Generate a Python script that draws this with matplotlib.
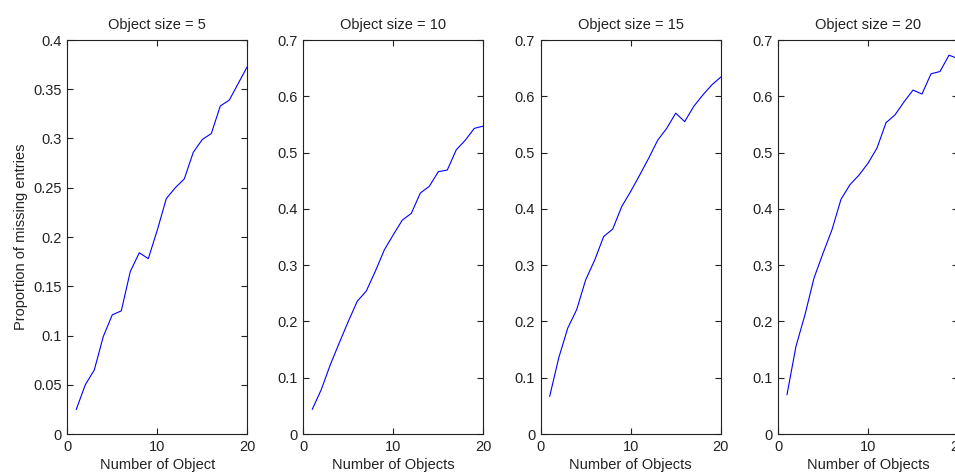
import numpy as np
import matplotlib
matplotlib.use('Agg')
import matplotlib.pyplot as plt
from matplotlib.ticker import FuncFormatter

plt.rcParams['font.family'] = ['Liberation Sans', 'DejaVu Sans']
plt.rcParams['font.size'] = 10.5

# number of objects on the x axis
n_objects = np.arange(1, 21)

# proportion of missing entries, one list per object size
size5 = [0.025, 0.050, 0.065, 0.099, 0.121, 0.125, 0.165, 0.184, 0.178, 0.207,
         0.239, 0.250, 0.259, 0.286, 0.299, 0.305, 0.333, 0.339, 0.356, 0.373]
size10 = [0.044, 0.079, 0.123, 0.162, 0.200, 0.236, 0.254, 0.289, 0.327, 0.354,
          0.380, 0.392, 0.428, 0.440, 0.466, 0.469, 0.505, 0.522, 0.543, 0.547]
size15 = [0.067, 0.135, 0.188, 0.221, 0.274, 0.309, 0.351, 0.364, 0.404, 0.431,
          0.460, 0.490, 0.522, 0.543, 0.570, 0.555, 0.582, 0.602, 0.620, 0.634]
size20 = [0.070, 0.156, 0.212, 0.277, 0.321, 0.363, 0.417, 0.443, 0.460, 0.481,
          0.508, 0.553, 0.567, 0.590, 0.611, 0.604, 0.640, 0.644, 0.673, 0.667]

series = [size5, size10, size15, size20]
titles = ['Object size = 5', 'Object size = 10', 'Object size = 15', 'Object size = 20']
xlabels = ['Number of Object', 'Number of Objects', 'Number of Objects', 'Number of Objects']
ylims = [0.4, 0.7, 0.7, 0.7]
ysteps = [0.05, 0.1, 0.1, 0.1]

W, H = 955, 473
fig = plt.figure(figsize=(W / 100, H / 100), dpi=100)

lefts = [67.3, 303.3, 540.7, 778.0]   # axes left edges in pixels
for i in range(4):
    ax = fig.add_axes([lefts[i] / W, 39 / H, 180 / W, 394 / H])
    ax.plot(n_objects, series[i], color='#0000ff', lw=0.8)
    ax.set_xlim(0, 20)
    ax.set_ylim(0, ylims[i])
    ax.set_xticks([0, 10, 20])
    ax.set_yticks(np.arange(0, ylims[i] + 1e-9, ysteps[i]))
    ax.yaxis.set_major_formatter(FuncFormatter(lambda v, p: '%g' % round(v, 3)))
    ax.tick_params(direction='in', length=4, width=0.8, top=True, right=True,
                   colors='#222222', labelcolor='#222222', pad=4)
    for s in ax.spines.values():
        s.set_color('#222222')
        s.set_linewidth(0.8)
    ax.set_title(titles[i], fontsize=10.5, pad=8, color='#222222')
    ax.set_xlabel(xlabels[i], labelpad=3, color='#222222')
    if i == 0:
        ax.set_ylabel('Proportion of missing entries', labelpad=4, color='#222222')

fig.savefig('out.png', dpi=100)
